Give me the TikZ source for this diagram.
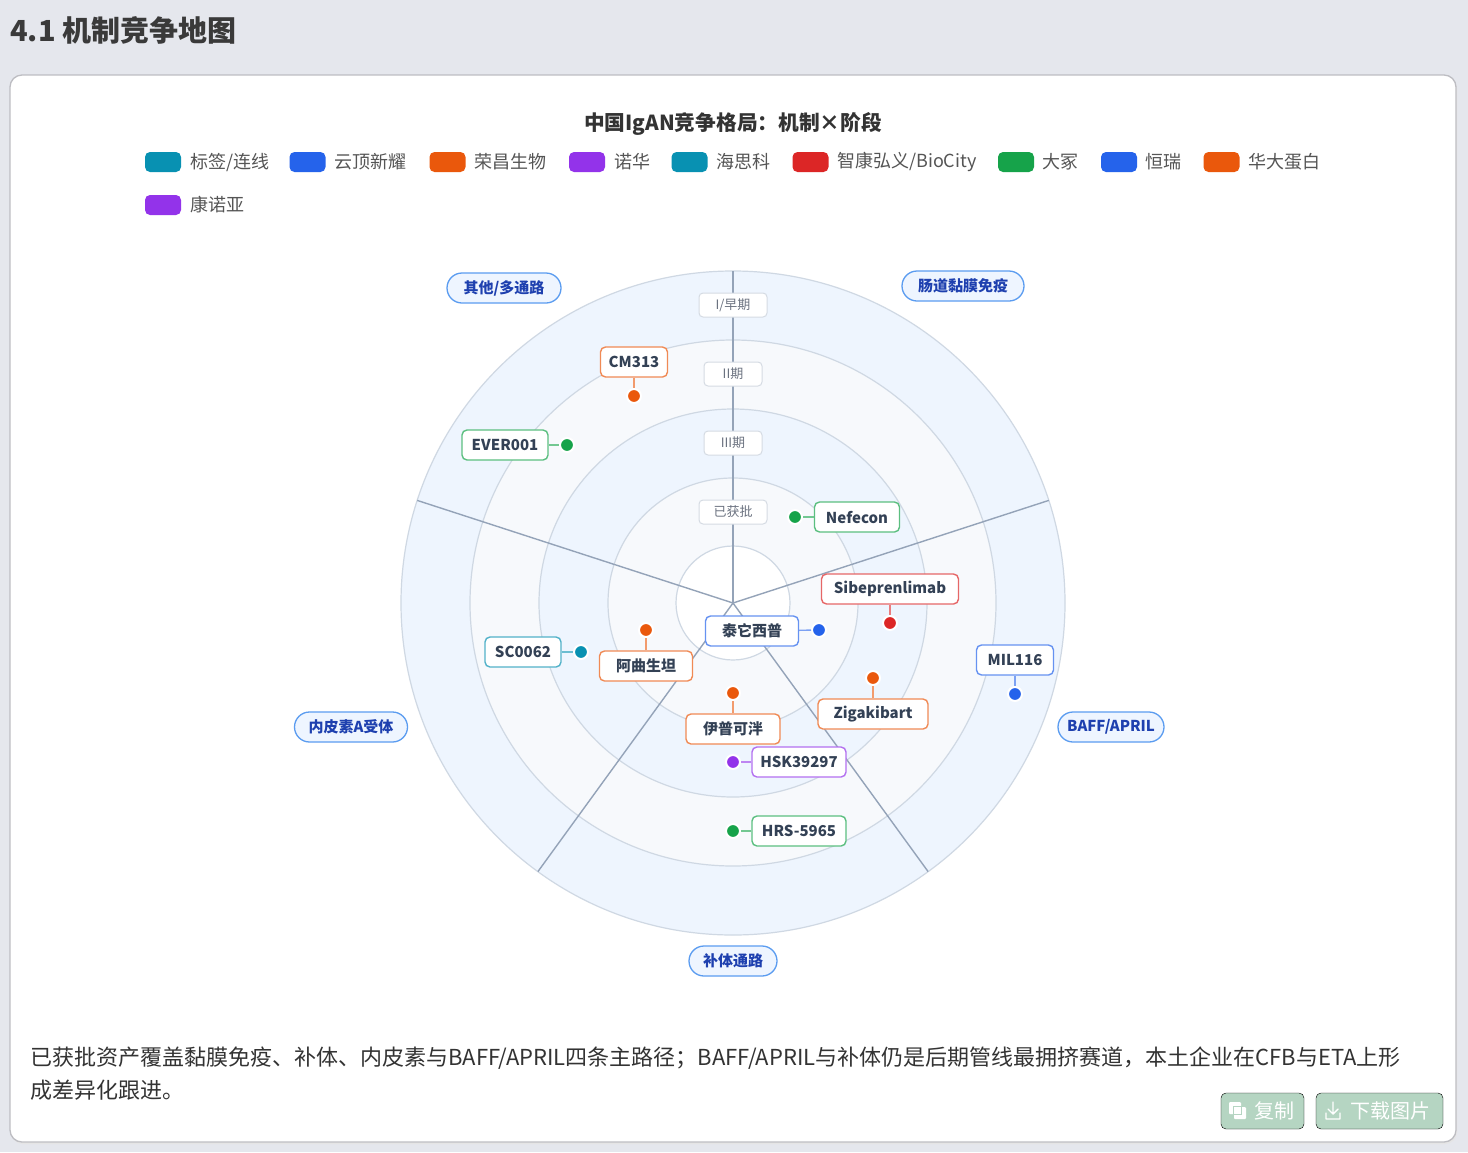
\documentclass[tikz,border=0pt]{standalone}
\usepackage{fontspec}
\setmainfont{Noto Sans CJK SC}
\usetikzlibrary{calc}
\newcommand\fsz[1]{\fontsize{#1}{#1}\selectfont}
\definecolor{pagebg}{HTML}{E5E7ED}
\definecolor{cardline}{HTML}{BDBDC2}
\definecolor{titlecol}{HTML}{3A3A3A}
\definecolor{legtxt}{HTML}{555555}
\definecolor{ctitle}{HTML}{333333}
\definecolor{cteal}{HTML}{0891B2}
\definecolor{cblue}{HTML}{2563EB}
\definecolor{corange}{HTML}{EA580C}
\definecolor{cpurple}{HTML}{9333EA}
\definecolor{cred}{HTML}{DC2626}
\definecolor{cgreen}{HTML}{16A34A}
\definecolor{ringblue}{HTML}{EEF5FE}
\definecolor{ringgray}{HTML}{F7F9FC}
\definecolor{circline}{HTML}{CFD8E3}
\definecolor{secline}{HTML}{94A3B8}
\definecolor{pillline}{HTML}{5B9CF0}
\definecolor{pillfill}{HTML}{EEF5FF}
\definecolor{pilltext}{HTML}{1E40AF}
\definecolor{phaseline}{HTML}{D5DBE3}
\definecolor{phasetext}{HTML}{6B7280}
\definecolor{nodetext}{HTML}{334155}
\definecolor{btnfill}{HTML}{B5D5C2}
\definecolor{bodytxt}{HTML}{333333}
\tikzset{
  swatch/.style={fill=#1, rounded corners=5pt, minimum width=36pt, minimum height=20pt, inner sep=0pt},
  legtext/.style={anchor=west, text=legtxt, font=\fsz{18}, inner sep=0pt},
  drugbox/.style={draw=#1!70!white, line width=1.4pt, rounded corners=5pt, fill=white, text=nodetext, font=\fsz{15}\bfseries, minimum height=30pt, inner sep=0pt},
  drugdot/.style={circle, fill=#1, draw=white, line width=2pt, minimum size=14pt, inner sep=0pt},
  druglink/.style={draw=#1!60!white, line width=1.4pt},
  pill/.style={draw=pillline, line width=1.3pt, fill=pillfill, rounded corners=15pt, text=pilltext, font=\fsz{15}\bfseries, minimum height=30pt, inner sep=0pt},
  phasebox/.style={draw=phaseline, line width=1pt, fill=white, rounded corners=4pt, text=phasetext, font=\fsz{13}, minimum height=24pt, inner sep=0pt},
  ringcirc/.style={draw=circline, line width=1.2pt},
  sector/.style={draw=secline, line width=1.4pt},
  btn/.style={fill=btnfill, rounded corners=5pt, inner sep=0pt},
  btntext/.style={text=white, font=\fsz{20}, inner sep=0pt, anchor=west},
}
\begin{document}
\begin{tikzpicture}[x=1pt,y=-1pt]
\useasboundingbox (0,0) rectangle (1468,1152);
\fill[pagebg] (0,0) rectangle (1468,1152);
% title
\node[anchor=west, text=titlecol, font=\fsz{29}\bfseries, inner sep=0pt] (pagetitle) at (10,30) {4.1 机制竞争地图};
% card
\fill[black!10, rounded corners=12pt] (11,77) rectangle (1457,1144);
\draw[cardline, fill=white, line width=1.3pt, rounded corners=12pt] (10,75) rectangle (1456,1142);
% chart title
\node[text=ctitle, font=\fsz{20.7}\bfseries, inner sep=0pt] (charttitle) at (733,124) {中国IgAN竞争格局：机制×阶段};
% legend
\node[swatch=cteal] (sw1) at (163,162) {};
\node[legtext] (lt1) at (190,162) {标签/连线};
\node[swatch=cblue] (sw2) at (307.5,162) {};
\node[legtext] (lt2) at (334,162) {云顶新耀};
\node[swatch=corange] (sw3) at (447.5,162) {};
\node[legtext] (lt3) at (474,162) {荣昌生物};
\node[swatch=cpurple] (sw4) at (587,162) {};
\node[legtext] (lt4) at (614,162) {诺华};
\node[swatch=cteal] (sw5) at (689.5,162) {};
\node[legtext] (lt5) at (716,162) {海思科};
\node[swatch=cred] (sw6) at (810.5,162) {};
\node[legtext] (lt6) at (837,162) {智康弘义/BioCity};
\node[swatch=cgreen] (sw7) at (1016,162) {};
\node[legtext] (lt7) at (1042,162) {大冢};
\node[swatch=cblue] (sw8) at (1119,162) {};
\node[legtext] (lt8) at (1145,162) {恒瑞};
\node[swatch=corange] (sw9) at (1221.5,162) {};
\node[legtext] (lt9) at (1248,162) {华大蛋白};
\node[swatch=cpurple] (sw10) at (163,205) {};
\node[legtext] (lt10) at (190,205) {康诺亚};
% rings
\coordinate (c) at (733,603);
\fill[ringblue] (c) circle[radius=332pt];
\draw[ringcirc] (c) circle[radius=332pt];
\filldraw[ringcirc, fill=ringgray] (c) circle[radius=263pt];
\filldraw[ringcirc, fill=ringblue] (c) circle[radius=194pt];
\filldraw[ringcirc, fill=ringgray] (c) circle[radius=125pt];
\filldraw[ringcirc, fill=white] (c) circle[radius=57pt];
% sector lines
\coordinate (s1) at (733,271);
\coordinate (s2) at (1048.8,500.4);
\coordinate (s3) at (928.1,871.6);
\coordinate (s4) at (537.9,871.6);
\coordinate (s5) at (417.2,500.4);
\foreach \s in {s1,s2,s3,s4,s5} \draw[sector] (c) -- (\s);
% phase labels
\node[phasebox, minimum width=68pt] (ph1) at (733,305) {I/早期};
\node[phasebox, minimum width=58pt] (ph2) at (733,374) {II期};
\node[phasebox, minimum width=58pt] (ph3) at (733,443) {III期};
\node[phasebox, minimum width=68pt] (ph4) at (733,512) {已获批};
% sector pills
\node[pill, minimum width=114pt] (p1) at (504,288) {其他/多通路};
\node[pill, minimum width=122pt] (p2) at (963,286) {肠道黏膜免疫};
\node[pill, minimum width=113pt] (p3) at (351,727) {内皮素A受体};
\node[pill, minimum width=106pt] (p4) at (1111,727) {BAFF/APRIL};
\node[pill, minimum width=88pt] (p5) at (733,961) {补体通路};
% drugs
\node[drugbox=corange, minimum width=67pt] (cm) at (634,362) {CM313};
\node[drugdot=corange] (cmd) at (634,396) {};
\draw[druglink=corange] (cm) -- (cmd);
\node[drugbox=cgreen, minimum width=86pt] (ev) at (505,445) {EVER001};
\node[drugdot=cgreen] (evd) at (567,445) {};
\draw[druglink=cgreen] (ev) -- (evd);
\node[drugbox=cgreen, minimum width=85pt] (ne) at (857,517) {Nefecon};
\node[drugdot=cgreen] (ned) at (795,517) {};
\draw[druglink=cgreen] (ne) -- (ned);
\node[drugbox=cred, minimum width=137pt] (si) at (890,589) {Sibeprenlimab};
\node[drugdot=cred] (sid) at (890,623) {};
\draw[druglink=cred] (si) -- (sid);
\node[drugbox=cblue, minimum width=93pt] (ta) at (752,631) {泰它西普};
\node[drugdot=cblue] (tad) at (819,630) {};
\draw[druglink=cblue] (ta) -- (tad);
\node[drugbox=cteal, minimum width=76pt] (sc) at (523,652) {SC0062};
\node[drugdot=cteal] (scd) at (581,652) {};
\draw[druglink=cteal] (sc) -- (scd);
\node[drugbox=corange, minimum width=93pt] (aq) at (646,666) {阿曲生坦};
\node[drugdot=corange] (aqd) at (646,630) {};
\draw[druglink=corange] (aq) -- (aqd);
\node[drugbox=cblue, minimum width=77pt] (mi) at (1015,660) {MIL116};
\node[drugdot=cblue] (mid) at (1015,694) {};
\draw[druglink=cblue] (mi) -- (mid);
\node[drugbox=corange, minimum width=110pt] (zi) at (873,714) {Zigakibart};
\node[drugdot=corange] (zid) at (873,678) {};
\draw[druglink=corange] (zi) -- (zid);
\node[drugbox=corange, minimum width=94pt] (yp) at (733,729) {伊普可泮};
\node[drugdot=corange] (ypd) at (733,693) {};
\draw[druglink=corange] (yp) -- (ypd);
\node[drugbox=cpurple, minimum width=94pt] (hs) at (799,762) {HSK39297};
\node[drugdot=cpurple] (hsd) at (733,762) {};
\draw[druglink=cpurple] (hs) -- (hsd);
\node[drugbox=cgreen, minimum width=94pt] (hr) at (799,831) {HRS-5965};
\node[drugdot=cgreen] (hrd) at (733,831) {};
\draw[druglink=cgreen] (hr) -- (hrd);
% body text
\node[anchor=west, text=bodytxt, font=\fsz{22}, inner sep=0pt] (body1) at (30,1058) {已获批资产覆盖黏膜免疫、补体、内皮素与BAFF/APRIL四条主路径；BAFF/APRIL与补体仍是后期管线最拥挤赛道，本土企业在CFB与ETA上形};
\node[anchor=west, text=bodytxt, font=\fsz{22}, inner sep=0pt] (body2) at (30,1090) {成差异化跟进。};
% buttons
\draw[btn] (1221,1093) rectangle (1304,1129);
\fill[white, rounded corners=1pt] (1229,1102) rectangle (1241,1114);
\fill[white, rounded corners=1pt] (1234,1107) rectangle (1246,1119);
\draw[btnfill, line width=1pt] (1233.5,1106.5) rectangle (1241.5,1114.5);
\node[btntext] (copy) at (1254,1111) {复制};
\draw[btn] (1316,1093) rectangle (1443,1129);
\draw[white, line width=1.4pt, line cap=round, line join=round] (1333,1102) -- (1333,1114) (1328,1109) -- (1333,1114) -- (1338,1109) (1326,1113) -- (1326,1119) -- (1340,1119) -- (1340,1113);
\node[btntext] (dl) at (1350,1111) {下载图片};
\end{tikzpicture}
\end{document}
